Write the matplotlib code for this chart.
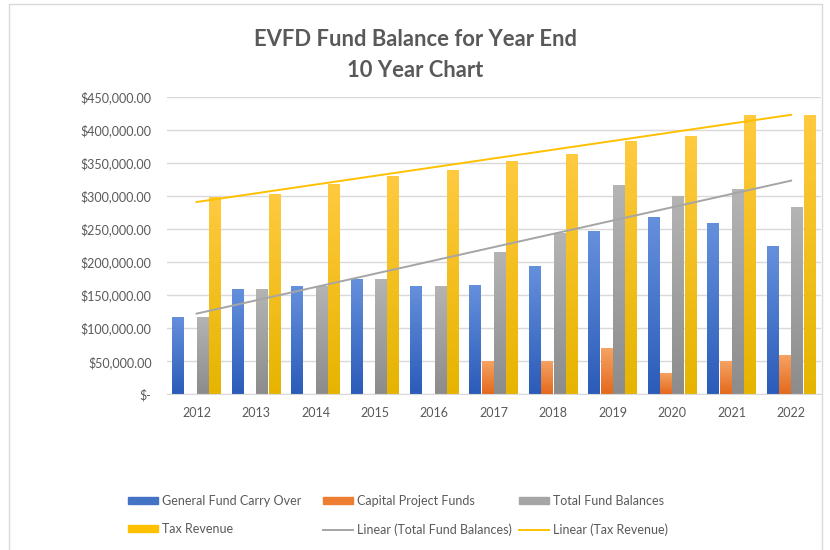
import matplotlib
matplotlib.use("Agg")
import matplotlib.pyplot as plt
import numpy as np
from matplotlib.colors import LinearSegmentedColormap
from matplotlib.patches import Patch, Rectangle
from matplotlib.lines import Line2D
from matplotlib.ticker import FuncFormatter

plt.rcParams['font.family'] = ['Lato', 'DejaVu Sans']

years = ['2012', '2013', '2014', '2015', '2016', '2017', '2018', '2019', '2020', '2021', '2022']
general_fund = [117000, 159000, 164000, 174000, 164000, 166000, 194000, 247000, 268000, 259000, 225000]
capital_funds = [0, 0, 0, 0, 0, 50000, 50000, 70000, 32000, 51000, 59000]
total_balances = [117000, 159000, 164000, 174000, 164000, 216000, 244000, 317000, 300000, 310000, 284000]
tax_revenue = [298000, 303000, 318000, 330000, 340000, 353000, 364000, 383000, 390000, 423000, 423000]

series = [
    ('General Fund Carry Over', general_fund, '#4472C4', '#6590dc', '#2b5cb9'),
    ('Capital Project Funds', capital_funds, '#ED7D31', '#f6a465', '#e4691c'),
    ('Total Fund Balances', total_balances, '#A5A5A5', '#b4b4b4', '#8c8c8c'),
    ('Tax Revenue', tax_revenue, '#FFC000', '#ffca3e', '#e6b400'),
]

text_col = '#595959'
fig = plt.figure(figsize=(8.3, 5.5), dpi=100)
ax = fig.add_axes([0.201, 0.283, 0.788, 0.541])

x = np.arange(len(years))
w = 0.2
for i, (name, vals, col, top, bot) in enumerate(series):
    bars = ax.bar(x + (i - 1.5) * 0.207, vals, width=w, color=col, zorder=2)
    cmap = LinearSegmentedColormap.from_list(name, [bot, top])
    for b in bars:
        h = b.get_height()
        if h <= 0:
            continue
        grad = np.linspace(0, 1, 64).reshape(-1, 1)
        im = ax.imshow(grad, cmap=cmap, origin='lower', aspect='auto',
                       extent=(b.get_x(), b.get_x() + b.get_width(), 0, h), zorder=2.5)
        im.set_clip_path(b)

# linear trendlines
fit_total = np.polyfit(x, total_balances, 1)
fit_tax = np.polyfit(x, tax_revenue, 1)
ax.plot(x, np.polyval(fit_total, x), color='#A5A5A5', lw=1.4, zorder=3)
ax.plot(x, np.polyval(fit_tax, x), color='#FFC000', lw=1.4, zorder=3)

ax.set_xlim(-0.5, 10.5)
ax.set_ylim(0, 450000)
ax.set_yticks(np.arange(0, 450001, 50000))
ax.yaxis.set_major_formatter(FuncFormatter(lambda v, p: '$-' if v == 0 else f'${v:,.2f}'))
ax.set_xticks(x)
ax.set_xticklabels(years)
ax.grid(axis='y', color='#d9d9d9', lw=1, zorder=0)
ax.set_axisbelow(True)
for s in ['left', 'right', 'top']:
    ax.spines[s].set_visible(False)
ax.spines['bottom'].set_color('#d9d9d9')
ax.tick_params(axis='y', length=0, pad=11, labelsize=9, labelcolor=text_col)
ax.tick_params(axis='x', length=0, pad=9, labelsize=9, labelcolor=text_col)

fig.text(0.5, 0.9, 'EVFD Fund Balance for Year End\n10 Year Chart', ha='center', va='center',
         fontsize=15.8, fontweight='bold', color=text_col, linespacing=1.55)

# legend, three fixed-width columns like Excel
handles = [
    Patch(color='#4472C4', label='General Fund Carry Over'),
    Patch(color='#ED7D31', label='Capital Project Funds'),
    Patch(color='#A5A5A5', label='Total Fund Balances'),
    Patch(color='#FFC000', label='Tax Revenue'),
    Line2D([], [], color='#A5A5A5', lw=1.4, label='Linear (Total Fund Balances)'),
    Line2D([], [], color='#FFC000', lw=1.4, label='Linear (Tax Revenue)'),
]
cols = [[handles[0], handles[3]], [handles[1], handles[4]], [handles[2], handles[5]]]
for xpos, hs in zip([128 / 830, 323 / 830, 519 / 830], cols):
    fig.legend(handles=hs, loc='upper left', bbox_to_anchor=(xpos, 0.1), frameon=False,
               fontsize=9, labelcolor=text_col, handlelength=2.4, handleheight=0.45,
               handletextpad=0.3, labelspacing=1.3, borderaxespad=0, borderpad=0)

# chart area border
fig.add_artist(Rectangle((9 / 830, -0.01), 813 / 830, 1 - 4 / 550 + 0.01, transform=fig.transFigure,
                         fill=False, edgecolor='#d9d9d9', lw=1))

fig.savefig('out.png', dpi=100)
